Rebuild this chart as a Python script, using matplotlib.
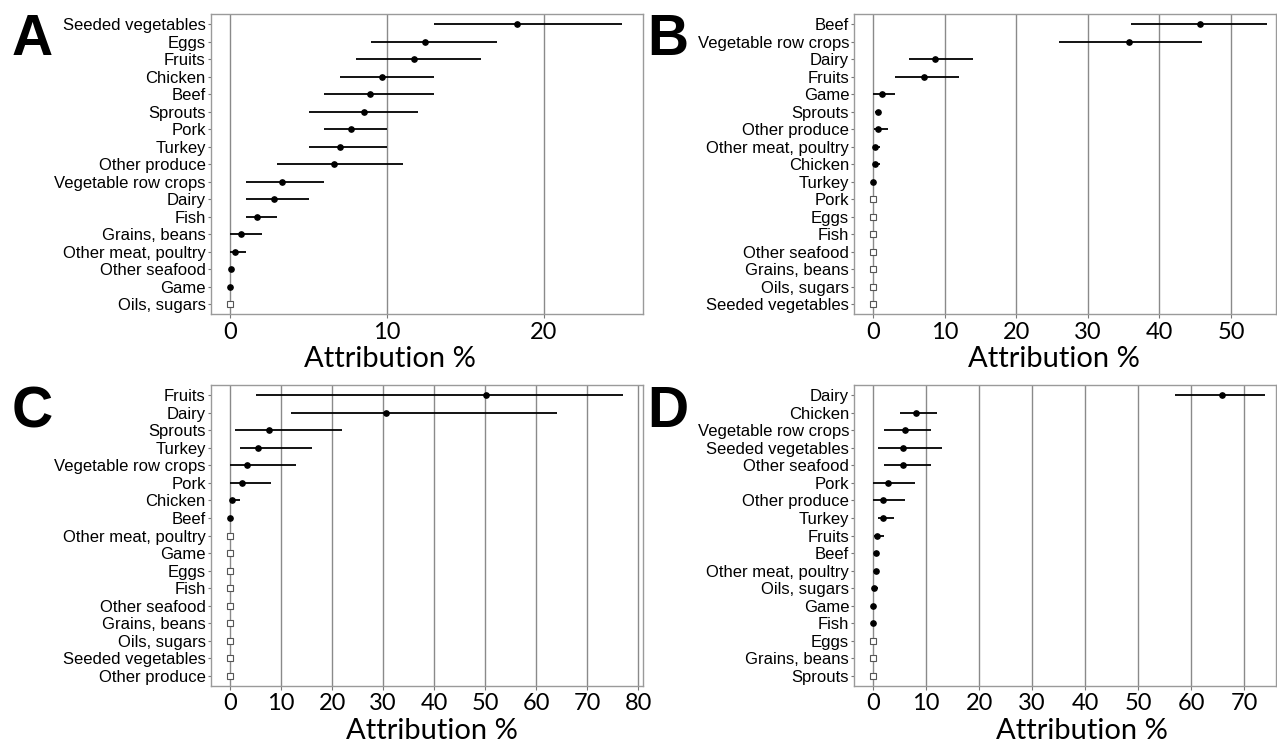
import numpy as np
import matplotlib.pyplot as plt


# --------------------------------------------------------------------------
# Data — attribution % per food category (point estimate, lower, upper)
# None in the estimate list = no attribution (drawn as open square at 0)
# --------------------------------------------------------------------------

cats_a = ["Seeded vegetables", "Eggs", "Fruits", "Chicken", "Beef", "Sprouts",
          "Pork", "Turkey", "Other produce", "Vegetable row crops", "Dairy",
          "Fish", "Grains, beans", "Other meat, poultry", "Other seafood",
          "Game", "Oils, sugars"]
est_a = [18.3, 12.4, 11.7, 9.7, 8.9, 8.5, 7.7, 7.0, 6.6, 3.3, 2.8, 1.7, 0.7,
         0.3, 0.05, 0.0, None]
lo_a = [13, 9, 8, 7, 6, 5, 6, 5, 3, 1, 1, 1, 0, 0, 0.05, 0.0]
hi_a = [25, 17, 16, 13, 13, 12, 10, 10, 11, 6, 5, 3, 2, 1, 0.05, 0.0]

cats_b = ["Beef", "Vegetable row crops", "Dairy", "Fruits", "Game", "Sprouts",
          "Other produce", "Other meat, poultry", "Chicken", "Turkey", "Pork",
          "Eggs", "Fish", "Other seafood", "Grains, beans", "Oils, sugars",
          "Seeded vegetables"]
est_b = [45.7, 35.7, 8.6, 7.1, 1.2, 0.7, 0.65, 0.2, 0.2, 0.0,
         None, None, None, None, None, None, None]
lo_b = [36, 26, 5, 3, 0, 0.2, 0.1, 0, 0, 0.0]
hi_b = [55, 46, 14, 12, 3, 0.9, 2, 1, 1, 0.0]

cats_c = ["Fruits", "Dairy", "Sprouts", "Turkey", "Vegetable row crops", "Pork",
          "Chicken", "Beef", "Other meat, poultry", "Game", "Eggs", "Fish",
          "Other seafood", "Grains, beans", "Oils, sugars", "Seeded vegetables",
          "Other produce"]
est_c = [50.1, 30.5, 7.6, 5.5, 3.4, 2.3, 0.3, 0.05,
         None, None, None, None, None, None, None, None, None]
lo_c = [5, 12, 1, 2, 0, 0, 0, 0.05]
hi_c = [77, 64, 22, 16, 13, 8, 2, 0.05]

cats_d = ["Dairy", "Chicken", "Vegetable row crops", "Seeded vegetables",
          "Other seafood", "Pork", "Other produce", "Turkey", "Fruits", "Beef",
          "Other meat, poultry", "Oils, sugars", "Game", "Fish", "Eggs",
          "Grains, beans", "Sprouts"]
est_d = [65.9, 8.1, 6.0, 5.7, 5.7, 2.8, 1.8, 1.8, 0.8, 0.5, 0.5, 0.2, 0.0, 0.0,
         None, None, None]
lo_d = [57, 5, 2, 1, 2, 0, 0, 1, 0.1, 0.5, 0.5, 0, 0, 0]
hi_d = [74, 12, 11, 13, 11, 8, 6, 4, 2, 0.5, 0.5, 1, 0, 0]

ticks_a = [0, 10, 20]
ticks_b = [0, 10, 20, 30, 40, 50]
ticks_c = [0, 10, 20, 30, 40, 50, 60, 70, 80]
ticks_d = [0, 10, 20, 30, 40, 50, 60, 70]


# --------------------------------------------------------------------------
# Helper — one forest-style panel
# --------------------------------------------------------------------------

GRID = "#8a8a8a"

def forest_panel(ax, cats, est, lo, hi, ticks, xlim, label_x):
    y = np.arange(len(cats))
    for yi, e in zip(y, est):
        if e is None:
            ax.plot(0, yi, marker="s", ms=5, mfc="white", mec="#555555",
                    mew=0.8, zorder=3)
    for yi, e, l, h in zip(y, est, lo, hi):
        if h > l:
            ax.hlines(yi, l, h, color="black", lw=1.3, zorder=3)
        ax.plot(e, yi, "o", color="black", ms=3.8, zorder=4)

    ax.set_xlim(*xlim)
    ax.set_ylim(len(cats) - 1 + 0.58, -0.58)
    ax.set_xticks(ticks)
    ax.set_yticks(y)
    ax.set_yticklabels(cats, family="Liberation Sans", fontsize=12)
    for t in ax.get_xticklabels():
        t.set_family("Lato")
        t.set_fontsize(17)

    ax.grid(axis="x", color=GRID, lw=1.0)
    ax.set_axisbelow(True)
    for s in ax.spines.values():
        s.set_color("#9a9a9a")
        s.set_linewidth(1.0)
    ax.tick_params(axis="y", length=2, width=0.8, color="#777777", pad=1.5)
    ax.tick_params(axis="x", length=3, width=0.8, color="#777777", pad=2.5)

    ax.set_xlabel("Attribution %", family="Lato", fontsize=21)
    ax.xaxis.set_label_coords(label_x, -0.107)


# --------------------------------------------------------------------------
# Figure — 2 x 2 panels placed to match the source layout
# --------------------------------------------------------------------------

W, H = 1277, 742
fig = plt.figure(figsize=(W / 100, H / 100), dpi=100)

def px_axes(x0, y0, x1, y1):
    return fig.add_axes([x0 / W, 1 - y1 / H, (x1 - x0) / W, (y1 - y0) / H])

ax_a = px_axes(210.7, 14.3, 642.7, 314.3)
ax_b = px_axes(854, 14.3, 1276, 314.3)
ax_c = px_axes(210.7, 385.3, 642.7, 685.7)
ax_d = px_axes(854, 385.3, 1276, 685.7)

forest_panel(ax_a, cats_a, est_a, lo_a, hi_a, ticks_a, (-1.25, 26.3), 0.414)
forest_panel(ax_b, cats_b, est_b, lo_b, hi_b, ticks_b, (-2.7, 56.3), 0.474)
forest_panel(ax_c, cats_c, est_c, lo_c, hi_c, ticks_c, (-3.8, 80.9), 0.512)
forest_panel(ax_d, cats_d, est_d, lo_d, hi_d, ticks_d, (-3.6, 76.0), 0.540)

# Panel letters
for letter, x, y in [("A", 12, 55), ("B", 647, 55), ("C", 12, 427), ("D", 647, 427)]:
    fig.text(x / W, 1 - y / H, letter, family="Liberation Sans",
             fontweight="bold", fontsize=41, va="baseline", ha="left")

plt.savefig("out.png", dpi=100)
